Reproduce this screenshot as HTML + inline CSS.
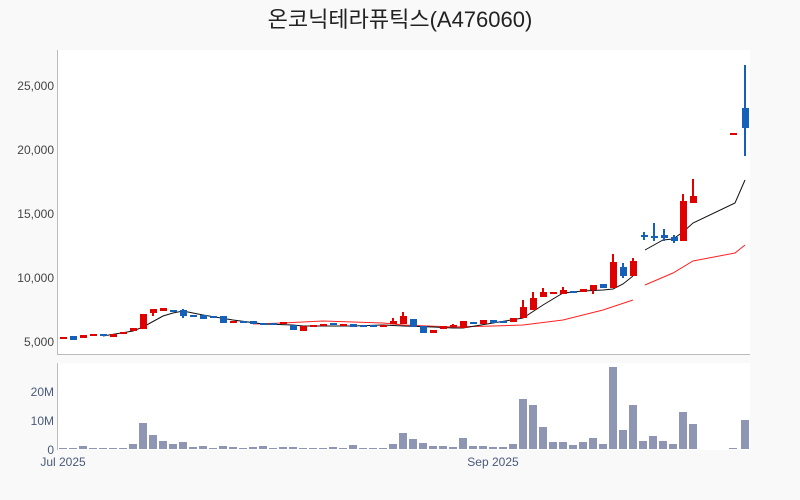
<!DOCTYPE html>
<html><head><meta charset="utf-8"><style>
html,body{margin:0;padding:0;background:#f9f9f9;}
svg{display:block;font-family:"Liberation Sans","Noto Sans CJK KR",sans-serif;}
</style></head><body>
<svg width="800" height="500" viewBox="0 0 800 500">
<rect x="0" y="0" width="800" height="500" fill="#f9f9f9"/>
<text x="400" y="27" text-anchor="middle" font-size="22" fill="#222" font-family="'Liberation Sans','Noto Sans CJK KR',sans-serif">온코닉테라퓨틱스(A476060)</text>
<rect x="57" y="50" width="693" height="304" fill="#fff"/>
<rect x="57" y="363" width="693" height="87" fill="#fff"/>
<line x1="57.5" y1="50" x2="57.5" y2="354" stroke="#bbb"/>
<line x1="57" y1="354.5" x2="750" y2="354.5" stroke="#bbb"/>
<line x1="57.5" y1="363" x2="57.5" y2="450" stroke="#bbb"/>
<g font-size="12" fill="#444" text-anchor="end">
<text x="54" y="90">25,000</text><text x="54" y="154">20,000</text><text x="54" y="218">15,000</text><text x="54" y="282">10,000</text><text x="54" y="346">5,000</text>
<text x="54" y="396" fill="#4a5a7a">20M</text><text x="54" y="425" fill="#4a5a7a">10M</text><text x="54" y="454" fill="#4a5a7a">0</text>
</g>
<g font-size="12" fill="#4a5a7a" text-anchor="middle"><text x="63" y="466">Jul 2025</text><text x="493" y="466">Sep 2025</text></g>
<g fill="#8f96b3">
<rect x="59" y="448" width="8" height="1"/><rect x="69" y="448" width="8" height="1"/><rect x="79" y="446" width="8" height="3"/><rect x="89" y="448" width="8" height="1"/><rect x="99" y="448" width="8" height="1"/><rect x="109" y="448" width="8" height="1"/><rect x="119" y="448" width="8" height="1"/><rect x="129" y="444" width="8" height="5"/><rect x="139" y="423" width="8" height="26"/><rect x="149" y="435" width="8" height="14"/><rect x="159" y="441" width="8" height="8"/><rect x="169" y="444" width="8" height="5"/><rect x="179" y="442" width="8" height="7"/><rect x="189" y="447" width="8" height="2"/><rect x="199" y="446" width="8" height="3"/><rect x="209" y="448" width="8" height="1"/><rect x="219" y="446" width="8" height="3"/><rect x="229" y="447" width="8" height="2"/><rect x="239" y="448" width="8" height="1"/><rect x="249" y="447" width="8" height="2"/><rect x="259" y="446" width="8" height="3"/><rect x="269" y="448" width="8" height="1"/><rect x="279" y="447" width="8" height="2"/><rect x="289" y="447" width="8" height="2"/><rect x="299" y="448" width="8" height="1"/><rect x="309" y="448" width="8" height="1"/><rect x="319" y="448" width="8" height="1"/><rect x="329" y="447" width="8" height="2"/><rect x="339" y="448" width="8" height="1"/><rect x="349" y="445" width="8" height="4"/><rect x="359" y="448" width="8" height="1"/><rect x="369" y="448" width="8" height="1"/><rect x="379" y="448" width="8" height="1"/><rect x="389" y="444" width="8" height="5"/><rect x="399" y="433" width="8" height="16"/><rect x="409" y="439" width="8" height="10"/><rect x="419" y="443" width="8" height="6"/><rect x="429" y="446" width="8" height="3"/><rect x="439" y="446" width="8" height="3"/><rect x="449" y="447" width="8" height="2"/><rect x="459" y="438" width="8" height="11"/><rect x="469" y="446" width="8" height="3"/><rect x="479" y="446" width="8" height="3"/><rect x="489" y="447" width="8" height="2"/><rect x="499" y="447" width="8" height="2"/><rect x="509" y="444" width="8" height="5"/><rect x="519" y="399" width="8" height="50"/><rect x="529" y="405" width="8" height="44"/><rect x="539" y="427" width="8" height="22"/><rect x="549" y="442" width="8" height="7"/><rect x="559" y="442" width="8" height="7"/><rect x="569" y="445" width="8" height="4"/><rect x="579" y="442" width="8" height="7"/><rect x="589" y="438" width="8" height="11"/><rect x="599" y="444" width="8" height="5"/><rect x="609" y="367" width="8" height="82"/><rect x="619" y="430" width="8" height="19"/><rect x="629" y="405" width="8" height="44"/><rect x="639" y="441" width="8" height="8"/><rect x="649" y="436" width="8" height="13"/><rect x="659" y="441" width="8" height="8"/><rect x="669" y="444" width="8" height="5"/><rect x="679" y="412" width="8" height="37"/><rect x="689" y="424" width="8" height="25"/><rect x="729" y="448" width="8" height="1"/><rect x="741" y="420" width="8" height="29"/>
</g>
<polyline fill="none" stroke="#f22" stroke-width="1" points="253,324 283,323 323,321 353,322 383,323 403,325 453,327 493,326 523,325 563,320 603,310 633,300"/>
<polyline fill="none" stroke="#f22" stroke-width="1" points="645,285 673,273 693,261 735,253 745,245"/>
<polyline fill="none" stroke="#111" stroke-width="1" points="103,336 133,331 143,327 163,316 173,313 183,311 203,315 233,320 263,324 293,325 303,326 353,326 383,325 403,326 433,327 453,328 463,328 493,323 523,318 543,305 563,293 583,291 603,290 613,289 623,284 633,276"/>
<polyline fill="none" stroke="#111" stroke-width="1" points="645,250 663,240 673,239 683,232 693,223 735,203 745,180"/>
<g>
<g stroke="#e00000" stroke-width="2">
<line x1="393" y1="318" x2="393" y2="324"/><line x1="403" y1="312" x2="403" y2="324"/><line x1="453" y1="324" x2="453" y2="327"/><line x1="523" y1="300" x2="523" y2="318"/><line x1="533" y1="292" x2="533" y2="310"/><line x1="543" y1="288" x2="543" y2="297"/><line x1="563" y1="287" x2="563" y2="294"/><line x1="593" y1="285" x2="593" y2="294"/><line x1="613" y1="254" x2="613" y2="288"/><line x1="633" y1="258" x2="633" y2="276"/><line x1="683" y1="194" x2="683" y2="241"/><line x1="693" y1="179" x2="693" y2="203"/><line x1="153" y1="309" x2="153" y2="316"/>
</g>
<g fill="#e00000">
<rect x="60" y="337" width="7" height="2"/><rect x="80" y="335" width="7" height="3"/><rect x="90" y="334" width="7" height="2"/><rect x="110" y="334" width="7" height="3"/><rect x="120" y="332" width="7" height="2"/><rect x="130" y="328" width="7" height="3"/><rect x="140" y="314" width="7" height="15"/><rect x="150" y="309" width="7" height="4"/><rect x="160" y="308" width="7" height="3"/><rect x="230" y="321" width="7" height="2"/><rect x="280" y="322" width="7" height="2"/><rect x="300" y="326" width="7" height="5"/><rect x="310" y="325" width="7" height="2"/><rect x="320" y="324" width="7" height="2"/><rect x="340" y="324" width="7" height="2"/><rect x="380" y="325" width="7" height="2"/><rect x="390" y="321" width="7" height="3"/><rect x="400" y="316" width="7" height="8"/><rect x="430" y="330" width="7" height="3"/><rect x="440" y="326" width="7" height="3"/><rect x="450" y="325" width="7" height="2"/><rect x="460" y="321" width="7" height="7"/><rect x="480" y="320" width="7" height="4"/><rect x="510" y="318" width="7" height="4"/><rect x="520" y="307" width="7" height="11"/><rect x="530" y="298" width="7" height="12"/><rect x="540" y="292" width="7" height="5"/><rect x="550" y="292" width="7" height="2"/><rect x="560" y="290" width="7" height="4"/><rect x="580" y="289" width="7" height="3"/><rect x="590" y="285" width="7" height="5"/><rect x="610" y="262" width="7" height="26"/><rect x="630" y="261" width="7" height="15"/><rect x="680" y="201" width="7" height="40"/><rect x="690" y="196" width="7" height="7"/><rect x="730" y="133" width="7" height="2"/>
</g>
<g stroke="#1560b8" stroke-width="2">
<line x1="623" y1="263" x2="623" y2="278"/><line x1="644" y1="232" x2="644" y2="240"/><line x1="654" y1="223" x2="654" y2="241"/><line x1="664" y1="229" x2="664" y2="241"/><line x1="674" y1="235" x2="674" y2="243"/><line x1="745" y1="65" x2="745" y2="156"/><line x1="183" y1="309" x2="183" y2="318"/>
</g>
<g fill="#1560b8">
<rect x="70" y="336" width="7" height="4"/><rect x="100" y="334" width="7" height="2"/><rect x="170" y="310" width="7" height="2"/><rect x="180" y="310" width="7" height="6"/><rect x="190" y="315" width="7" height="2"/><rect x="200" y="315" width="7" height="4"/><rect x="210" y="316" width="7" height="2"/><rect x="220" y="316" width="7" height="7"/><rect x="240" y="321" width="7" height="2"/><rect x="250" y="321" width="7" height="3"/><rect x="260" y="323" width="7" height="2"/><rect x="270" y="323" width="7" height="2"/><rect x="290" y="325" width="7" height="5"/><rect x="330" y="323" width="7" height="2"/><rect x="350" y="324" width="7" height="3"/><rect x="360" y="325" width="7" height="2"/><rect x="370" y="325" width="7" height="2"/><rect x="410" y="319" width="7" height="8"/><rect x="420" y="326" width="7" height="7"/><rect x="470" y="322" width="7" height="2"/><rect x="490" y="320" width="7" height="3"/><rect x="500" y="321" width="7" height="2"/><rect x="570" y="291" width="7" height="2"/><rect x="600" y="284" width="7" height="4"/><rect x="620" y="267" width="7" height="9"/><rect x="641" y="235" width="7" height="2"/><rect x="651" y="236" width="7" height="2"/><rect x="661" y="235" width="7" height="3"/><rect x="671" y="237" width="7" height="4"/><rect x="742" y="108" width="7" height="20"/>
</g>
</g>
</svg>
</body></html>
